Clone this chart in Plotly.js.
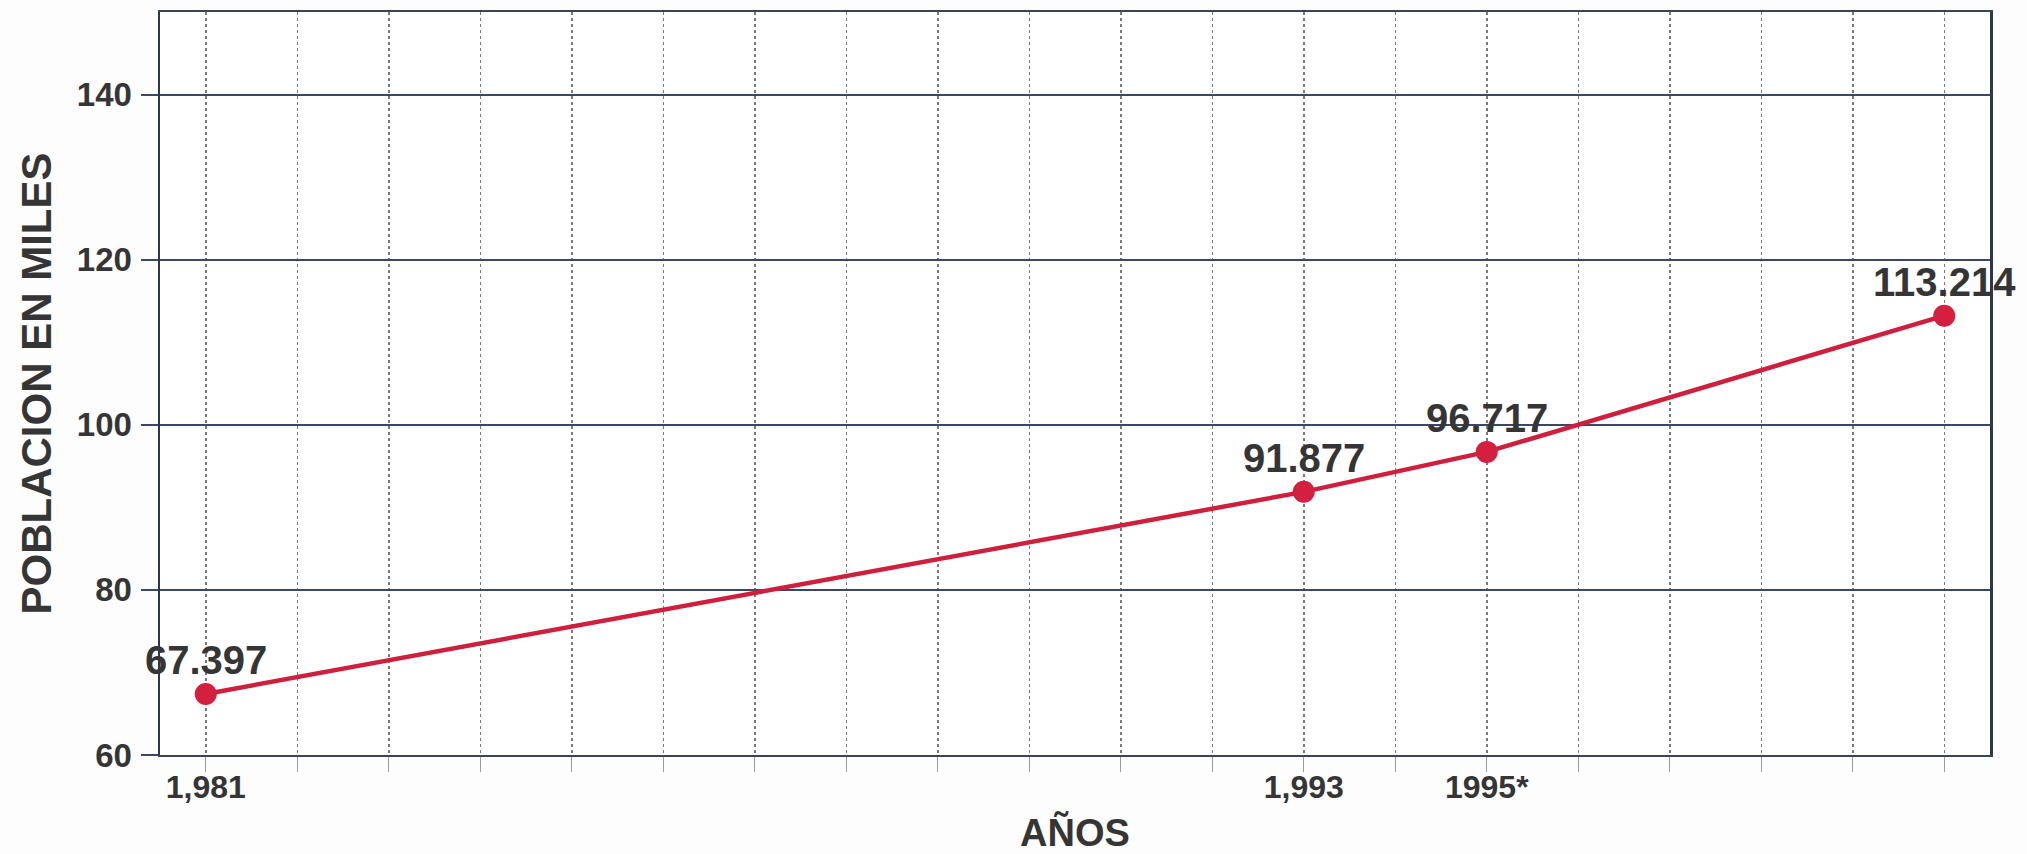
<!DOCTYPE html>
<html>
<head>
<meta charset="utf-8">
<script src="https://cdn.plot.ly/plotly-3.0.1.min.js"></script>
<style>
  html, body { margin: 0; padding: 0; background: #fdfdfd; }
  #chart { width: 2027px; height: 854px; }
</style>
</head>
<body>
<div id="chart"></div>
<script>
// Data
const years = [1981, 1993, 1995, 2000];
const population = [67.397, 91.877, 96.717, 113.214];
const pointLabels = ['67.397', '91.877', '96.717', '113.214'];

// Axis ticks
const gridYearStart = 1981;
const gridYearEnd = 2000;
const labeledYears = [1981, 1993, 1995];
const labeledYearText = ['1,981', '1,993', '1995*'];
const yTicks = [60, 80, 100, 120, 140];

const tickVals = [];
const tickText = [];
for (let yr = gridYearStart; yr <= gridYearEnd; yr++) {
  tickVals.push(yr);
  const idx = labeledYears.indexOf(yr);
  tickText.push(idx >= 0 ? labeledYearText[idx] : '');
}

const FONT = 'Liberation Sans, Arial, Helvetica, sans-serif';
const TEXT = '#353535';

const trace = {
  x: years,
  y: population,
  type: 'scatter',
  mode: 'lines+markers',
  cliponaxis: false,
  line: { color: '#cf1f3c', width: 4.5 },
  marker: { color: '#d41f3f', size: 22 },
  hoverinfo: 'x+y'
};

const labelAnnotations = years.map((yr, i) => ({
  x: yr,
  y: population[i],
  xref: 'x',
  yref: 'y',
  text: pointLabels[i],
  showarrow: false,
  yshift: 34,
  font: { family: FONT, size: 40, color: TEXT, weight: 700 }
}));

const layout = {
  width: 2027,
  height: 854,
  margin: { l: 160, r: 37, t: 12, b: 99 },
  paper_bgcolor: '#fdfdfd',
  plot_bgcolor: '#ffffff',
  showlegend: false,
  font: { family: FONT, color: TEXT },
  annotations: labelAnnotations,
  xaxis: {
    range: [1980.5, 2000.5],
    tickmode: 'array',
    tickvals: tickVals,
    ticktext: tickText,
    showgrid: true,
    gridcolor: '#7a7a7a',
    gridwidth: 1.5,
    griddash: 'dot',
    zeroline: false,
    showline: true,
    linecolor: '#3c4258',
    linewidth: 2,
    mirror: true,
    ticks: 'outside',
    ticklen: 15,
    tickwidth: 1,
    tickcolor: '#9a9a9a',
    ticklabelstandoff: -12,
    tickfont: { family: FONT, size: 32, color: TEXT, weight: 700 },
    title: { text: 'AÑOS', font: { family: FONT, size: 38, color: TEXT, weight: 700 }, standoff: 34 },
    automargin: false
  },
  yaxis: {
    range: [60, 150],
    tickmode: 'array',
    tickvals: yTicks,
    showgrid: true,
    gridcolor: '#3a4766',
    gridwidth: 2,
    zeroline: false,
    showline: true,
    linecolor: '#2e3550',
    linewidth: 2.5,
    mirror: true,
    ticks: 'outside',
    ticklen: 17,
    tickwidth: 2,
    tickcolor: '#3a4766',
    ticklabelstandoff: 2,
    tickfont: { family: FONT, size: 33, color: TEXT, weight: 700 },
    title: { text: 'POBLACION EN MILES', font: { family: FONT, size: 42, color: TEXT, weight: 700 }, standoff: 12 },
    automargin: false
  }
};

Plotly.newPlot('chart', [trace], layout, { displayModeBar: false, staticPlot: true });
</script>
</body>
</html>
